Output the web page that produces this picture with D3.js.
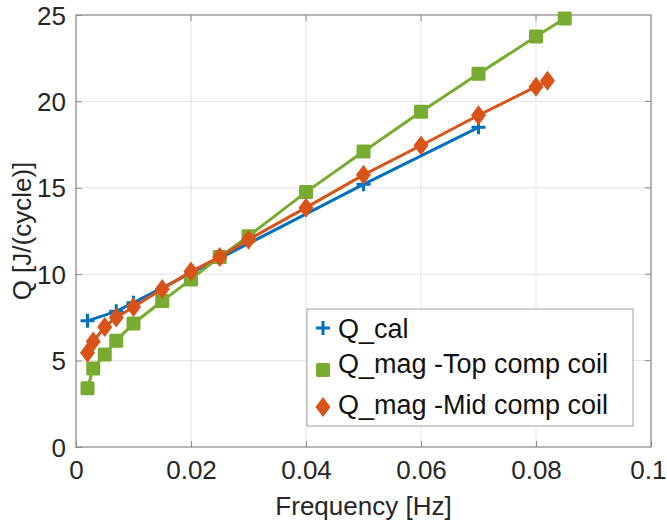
<!DOCTYPE html>
<html>
<head>
<meta charset="utf-8">
<script src="https://cdn.jsdelivr.net/npm/d3@7"></script>
<style>
  body { margin: 0; background: #fff; }
  svg { font-family: "Liberation Sans", Arial, sans-serif; }
</style>
</head>
<body>
<svg></svg>
<script>
var svg = d3.select('svg');

var width = 667;
var height = 528;

var margin = { "top": 15, "right": 16, "bottom": 81, "left": 76 };

svg.attr("width", width)
   .attr("height", height);

// data
var calFreq = [0.002, 0.007, 0.01, 0.05, 0.07];
var calQ    = [7.3, 7.85, 8.35, 15.2, 18.5];

var topFreq = [0.002, 0.003, 0.005, 0.007, 0.01, 0.015, 0.02, 0.025, 0.03, 0.04, 0.05, 0.06, 0.07, 0.08, 0.085];
var topQ    = [3.4, 4.55, 5.35, 6.15, 7.15, 8.45, 9.7, 11.0, 12.2, 14.75, 17.1, 19.4, 21.6, 23.75, 24.8];

var midFreq = [0.002, 0.003, 0.005, 0.007, 0.01, 0.015, 0.02, 0.025, 0.03, 0.04, 0.05, 0.06, 0.07, 0.08, 0.082];
var midQ    = [5.45, 6.1, 6.95, 7.5, 8.1, 9.15, 10.15, 11.0, 12.0, 13.85, 15.75, 17.45, 19.2, 20.85, 21.2];

var xTicks = [0, 0.02, 0.04, 0.06, 0.08, 0.1];
var yTicks = [0, 5, 10, 15, 20, 25];

var legendLabels = ["Q_cal", "Q_mag -Top comp coil", "Q_mag -Mid comp coil"];

var blue = "#0072BD";
var green = "#77AC30";
var orange = "#D95319";

function zip(xs, ys) {
  return xs.map(function(x, i) { return { x: x, y: ys[i] }; });
}

var series = [
  { name: legendLabels[0], color: blue,   marker: "plus",    data: zip(calFreq, calQ) },
  { name: legendLabels[1], color: green,  marker: "square",  data: zip(topFreq, topQ) },
  { name: legendLabels[2], color: orange, marker: "diamond", data: zip(midFreq, midQ) }
];

var scaleX = d3.scaleLinear()
               .domain([0, 0.1])
               .range([margin.left, width - margin.right]);

var scaleY = d3.scaleLinear()
               .domain([0, 25])
               .range([height - margin.bottom, margin.top]);

var x0 = margin.left, x1 = width - margin.right;
var y0 = height - margin.bottom, y1 = margin.top;

// grid
svg.append("g").selectAll("line")
   .data(xTicks.slice(1, -1))
   .enter().append("line")
   .attr("x1", function(d) { return scaleX(d); })
   .attr("x2", function(d) { return scaleX(d); })
   .attr("y1", y0).attr("y2", y1)
   .attr("stroke", "#e3e3e3").attr("stroke-width", 1);

svg.append("g").selectAll("line")
   .data(yTicks.slice(1, -1))
   .enter().append("line")
   .attr("y1", function(d) { return scaleY(d); })
   .attr("y2", function(d) { return scaleY(d); })
   .attr("x1", x0).attr("x2", x1)
   .attr("stroke", "#e3e3e3").attr("stroke-width", 1);

// axes (ticks pointing inward, matlab style)
var xAxis = d3.axisBottom(scaleX)
              .tickValues(xTicks)
              .tickFormat(function(d) { return d === 0 ? "0" : d3.format("")(+d.toFixed(2)); })
              .tickSizeInner(-6).tickSizeOuter(0).tickPadding(14);

var yAxis = d3.axisLeft(scaleY)
              .tickValues(yTicks)
              .tickSizeInner(-6).tickSizeOuter(0).tickPadding(10);

var gx = svg.append("g").attr("transform", "translate(0," + y0 + ")").call(xAxis);
var gy = svg.append("g").attr("transform", "translate(" + x0 + ",0)").call(yAxis);

[gx, gy].forEach(function(g) {
  g.select(".domain").remove();
  g.selectAll(".tick line").attr("stroke", "#8c8c8c");
  g.selectAll("text").attr("fill", "#262626").style("font-size", "26px");
});
gy.selectAll("text").attr("dy", "0.35em");

// last x label sits right at the page edge, keep it inside
gx.selectAll(".tick text")
  .filter(function(d) { return d === 0.1; })
  .attr("text-anchor", "end")
  .attr("x", 15);

// top ticks / right ticks too
svg.append("g").selectAll("line")
   .data(xTicks.slice(1, -1))
   .enter().append("line")
   .attr("x1", function(d) { return scaleX(d); })
   .attr("x2", function(d) { return scaleX(d); })
   .attr("y1", y1).attr("y2", y1 + 6)
   .attr("stroke", "#8c8c8c");
svg.append("g").selectAll("line")
   .data(yTicks.slice(1, -1))
   .enter().append("line")
   .attr("y1", function(d) { return scaleY(d); })
   .attr("y2", function(d) { return scaleY(d); })
   .attr("x1", x1).attr("x2", x1 - 6)
   .attr("stroke", "#8c8c8c");

// box
svg.append("rect")
   .attr("x", x0).attr("y", y1)
   .attr("width", x1 - x0).attr("height", y0 - y1)
   .attr("fill", "none")
   .attr("stroke", "#8c8c8c").attr("stroke-width", 1.3);

// labels
svg.append("text")
   .attr("x", (x0 + x1) / 2).attr("y", 515)
   .attr("text-anchor", "middle")
   .attr("fill", "#262626").style("font-size", "26px")
   .text("Frequency [Hz]");

svg.append("text")
   .attr("transform", "translate(31," + ((y0 + y1) / 2) + ") rotate(-90)")
   .attr("text-anchor", "middle")
   .attr("fill", "#262626").style("font-size", "26px")
   .text("Q [J/(cycle)]");

// marker shapes
function drawMarker(g, type, color) {
  if (type === "plus") {
    g.append("path").attr("d", "M-7,0H7M0,-7V7")
     .attr("stroke", color).attr("stroke-width", 3).attr("fill", "none");
  } else if (type === "square") {
    g.append("rect").attr("x", -7).attr("y", -7).attr("width", 14).attr("height", 14)
     .attr("rx", 1.5).attr("fill", color);
  } else {
    g.append("path").attr("d", "M0,-10L7.5,0L0,10L-7.5,0Z")
     .attr("fill", color);
  }
}

var line = d3.line()
             .x(function(d) { return scaleX(d.x); })
             .y(function(d) { return scaleY(d.y); });

series.forEach(function(s) {
  var g = svg.append("g");
  g.append("path")
   .datum(s.data)
   .attr("d", line)
   .attr("fill", "none")
   .attr("stroke", s.color)
   .attr("stroke-width", 3);

  g.selectAll("g.pt")
   .data(s.data)
   .enter().append("g")
   .attr("class", "pt")
   .attr("transform", function(d) { return "translate(" + scaleX(d.x) + "," + scaleY(d.y) + ")"; })
   .each(function() { drawMarker(d3.select(this), s.marker, s.color); });
});

// legend
var leg = svg.append("g");
leg.append("rect")
   .attr("x", 307).attr("y", 309)
   .attr("width", 326).attr("height", 117)
   .attr("fill", "#fff")
   .attr("stroke", "#a0a0a0").attr("stroke-width", 1);

var legY = [329, 364, 405];
var markY = [328, 370, 407];

series.forEach(function(s, i) {
  var m = leg.append("g").attr("transform", "translate(323," + markY[i] + ")");
  drawMarker(m, s.marker, s.color);
  leg.append("text")
     .attr("x", 338).attr("y", legY[i])
     .attr("dy", "0.35em")
     .attr("fill", "#111").style("font-size", "27px")
     .text(s.name);
});
</script>
</body>
</html>
